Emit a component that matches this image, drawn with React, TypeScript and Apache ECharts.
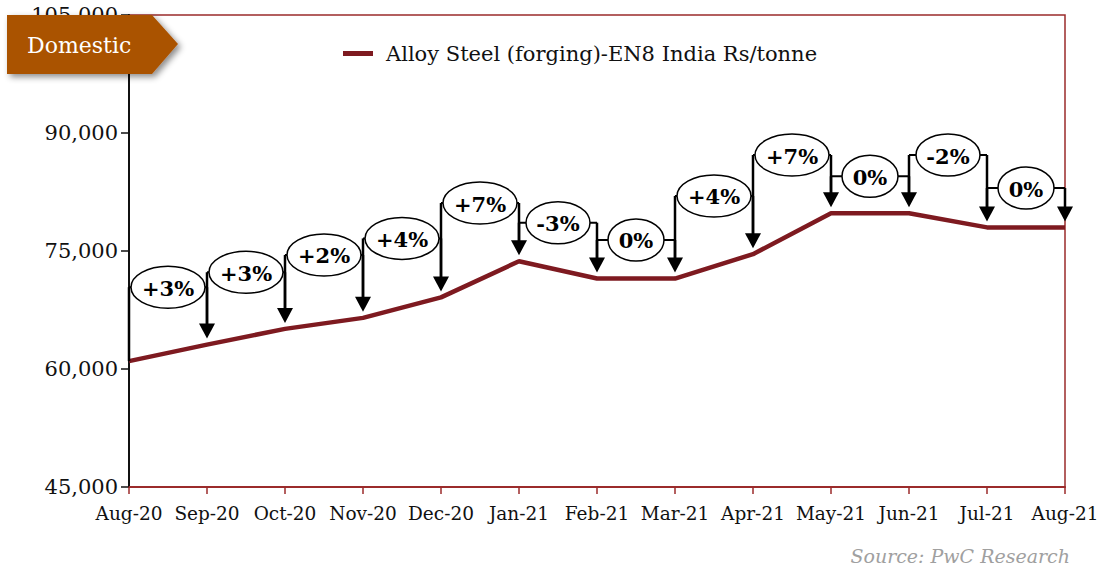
import React, { useEffect, useRef } from "react";
import * as echarts from "echarts";

const categories = ["Aug-20", "Sep-20", "Oct-20", "Nov-20", "Dec-20", "Jan-21", "Feb-21", "Mar-21", "Apr-21", "May-21", "Jun-21", "Jul-21", "Aug-21"];
const prices = [61000, 63100, 65100, 66500, 69100, 73700, 71500, 71500, 74600, 79800, 79800, 78000, 78000];
const changeLabels = ["+3%", "+3%", "+2%", "+4%", "+7%", "-3%", "0%", "+4%", "+7%", "0%", "-2%", "0%"];
const labelLevels = [70400, 72300, 74500, 76600, 81100, 78600, 76400, 82000, 87200, 84500, 87200, 83000];
const seriesName = "Alloy Steel (forging)-EN8 India Rs/tonne";
const yMin = 45000;
const yMax = 105000;
const yStep = 15000;

const SERIF = '"DejaVu Serif", "Liberation Serif", serif';
const MAROON = "#7E1A20";
const BORDER = "#9B2B2B";

export default function App() {
  const ref = useRef<HTMLDivElement>(null);
  useEffect(() => {
    if (!ref.current) return;
    const chart = echarts.init(ref.current, undefined, { renderer: "svg" });
    const annData = labelLevels.map((lv, i) => [i, lv]);
    chart.setOption({
      animation: false,
      backgroundColor: "#ffffff",
      grid: { left: 129, right: 39, top: 15, bottom: 81, show: true, borderColor: BORDER, borderWidth: 1.5, backgroundColor: "transparent" },
      legend: {
        data: [seriesName],
        left: 338,
        top: 38,
        itemWidth: 30,
        itemHeight: 5,
        icon: "rect",
        textStyle: { fontFamily: SERIF, fontSize: 21, color: "#111", padding: [0, 0, 0, 8] },
      },
      xAxis: {
        type: "category",
        data: categories,
        boundaryGap: false,
        axisLine: { lineStyle: { color: BORDER, width: 2 } },
        axisTick: { show: true, length: 7, lineStyle: { color: BORDER, width: 1.5 } },
        axisLabel: { fontFamily: SERIF, fontSize: 18.5, color: "#111", margin: 17, interval: 0 },
        splitLine: { show: false },
      },
      yAxis: {
        type: "value",
        min: yMin,
        max: yMax,
        interval: yStep,
        axisLine: { show: true, lineStyle: { color: "#111", width: 2 } },
        axisTick: { show: true, length: 8, lineStyle: { color: "#111", width: 1.5 } },
        axisLabel: {
          fontFamily: SERIF,
          fontSize: 21,
          color: "#111",
          margin: 11,
          formatter: (v: number) => v.toLocaleString("en-US"),
        },
        splitLine: { show: false },
      },
      series: [
        {
          name: seriesName,
          type: "line",
          data: prices,
          symbol: "none",
          z: 2,
          lineStyle: { color: MAROON, width: 4.5 },
          itemStyle: { color: MAROON },
        },
        {
          name: "changes",
          type: "custom",
          z: 5,
          clip: false,
          silent: true,
          data: annData,
          renderItem: (params: any, api: any) => {
            const i = api.value(0) as number;
            const level = api.value(1) as number;
            const pL = api.coord([i, level]);
            const pR = api.coord([i + 1, level]);
            const x0 = pL[0];
            const x1 = pR[0];
            const yL = pL[1];
            const y0 = api.coord([i, prices[i]])[1];
            const y1 = api.coord([i + 1, prices[i + 1]])[1];
            const tip = y1 - 6;
            const base = tip - 15;
            const lab = changeLabels[i];
            const rx = lab === "0%" ? 28 : lab.startsWith("-") ? 32 : 37;
            const ry = 21;
            const cx = (x0 + x1) / 2;
            const stroke = { stroke: "#000", lineWidth: 2.5 };
            return {
              type: "group",
              children: [
                { type: "line", shape: { x1: x0, y1: yL, x2: x0, y2: i === 0 ? y0 : y0 - 20 }, style: stroke },
                { type: "line", shape: { x1: x0, y1: yL, x2: x1, y2: yL }, style: { stroke: "#000", lineWidth: 2 } },
                { type: "line", shape: { x1: x1, y1: yL, x2: x1, y2: base + 1 }, style: stroke },
                { type: "polygon", shape: { points: [[x1 - 8, base], [x1 + 8, base], [x1, tip]] }, style: { fill: "#000" } },
                { type: "ellipse", shape: { cx, cy: yL, rx, ry }, style: { fill: "#fff", stroke: "#000", lineWidth: 1.5 } },
                {
                  type: "text",
                  x: cx,
                  y: yL + 1,
                  style: { text: lab, fill: "#000", font: `bold 21px ${SERIF}`, align: "center", verticalAlign: "middle" },
                },
              ],
            };
          },
        },
      ],
      graphic: [
        {
          type: "polygon",
          z: 100,
          shape: { points: [[7, 15], [152, 15], [178, 44], [152, 74], [7, 74]] },
          style: { fill: "#AA5200", shadowBlur: 6, shadowOffsetX: 3, shadowOffsetY: 3, shadowColor: "rgba(0,0,0,0.45)" },
        },
        {
          type: "text",
          z: 101,
          x: 27,
          y: 45,
          style: { text: "Domestic", fill: "#fff", font: `22px ${SERIF}`, verticalAlign: "middle" },
        },
        {
          type: "text",
          z: 101,
          x: 1070,
          y: 556,
          style: { text: "Source: PwC Research", fill: "#A0A0A0", font: `italic 19px ${SERIF}`, align: "right", verticalAlign: "middle" },
        },
      ],
    });
    return () => chart.dispose();
  }, []);
  return <div ref={ref} style={{ position: "absolute", left: 0, top: 0, width: 1104, height: 568 }} />;
}
